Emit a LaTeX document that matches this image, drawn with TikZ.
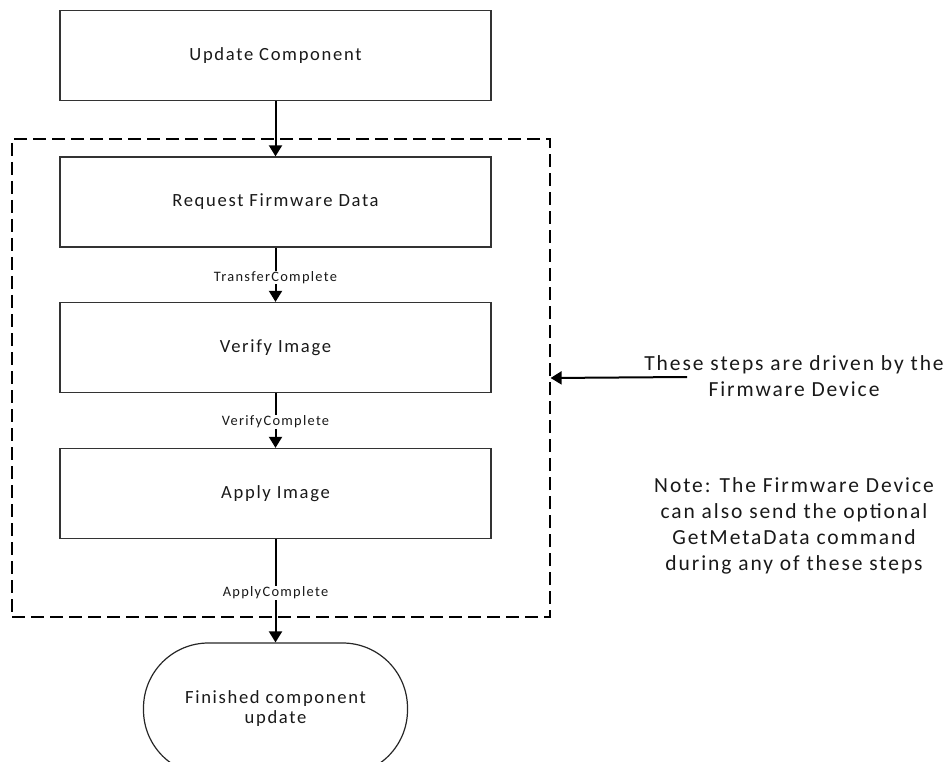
\documentclass[tikz,border=0pt]{standalone}
\usepackage{fontspec}
\setmainfont{Carlito}
\newfontfamily\spacedfont{Carlito}[LetterSpace=9]
\usetikzlibrary{arrows.meta}
\begin{document}
\begin{tikzpicture}[x=1pt,y=-1pt,
  stepbox/.style={draw=black!80, line width=1.3pt, minimum width=431pt,
    minimum height=90pt, inner sep=0pt, text=black!90,
    font=\spacedfont\fontsize{18.6}{20}\selectfont},
  endbox/.style={draw=black!85, line width=1.2pt, rounded corners=65pt,
    minimum width=264pt, minimum height=132pt, inner sep=0pt, align=center,
    text=black!90, font=\spacedfont\fontsize{18.6}{20}\selectfont},
  group/.style={draw=black, line width=1.2pt, dash pattern=on 13pt off 6pt,
    minimum width=538pt, minimum height=478pt, inner sep=0pt},
  flow/.style={draw=black, line width=2pt, -{Triangle[length=11pt,width=13pt]}},
  lbl/.style={fill=white, inner sep=0.8pt, text=black!90,
    font=\spacedfont\fontsize{14.4}{16}\selectfont},
  note/.style={align=center, inner sep=0pt, text=black!90,
    font=\spacedfont\fontsize{21.5}{26}\selectfont}
]
\useasboundingbox (0,0) rectangle (951,762);
\clip (0,0) rectangle (951,762);

% firmware-device driven region
\node[group] (grp) at (281,378) {};

% process steps
\node[stepbox] (upd) at (275.5,55.5) {Update Component};
\node[stepbox] (req) at (275.5,202) {Request Firmware Data};
\node[stepbox] (ver) at (275.5,347.5) {Verify Image};
\node[stepbox] (app) at (275.5,493.5) {Apply Image};
\node[endbox] (fin) at (275.5,709) {Finished component\\update};

% transitions
\draw[flow] (upd) -- (req);
\draw[flow] (req) -- node[lbl, pos=0.55] {TransferComplete} (ver);
\draw[flow] (ver) -- node[lbl, pos=0.52] {VerifyComplete} (app);
\draw[flow] (app) -- node[lbl, pos=0.52] {ApplyComplete} (fin);

% side notes
\node[note] (drv) at (794,376) {These steps are driven by the\\Firmware Device};
\coordinate (drvtail) at (687,377);
\draw[flow] (drvtail) -- (grp.east);
\node[note] (gmd) at (794,525.5) {Note: The Firmware Device\\can also send the optional\\GetMetaData command\\during any of these steps};
\end{tikzpicture}
\end{document}
